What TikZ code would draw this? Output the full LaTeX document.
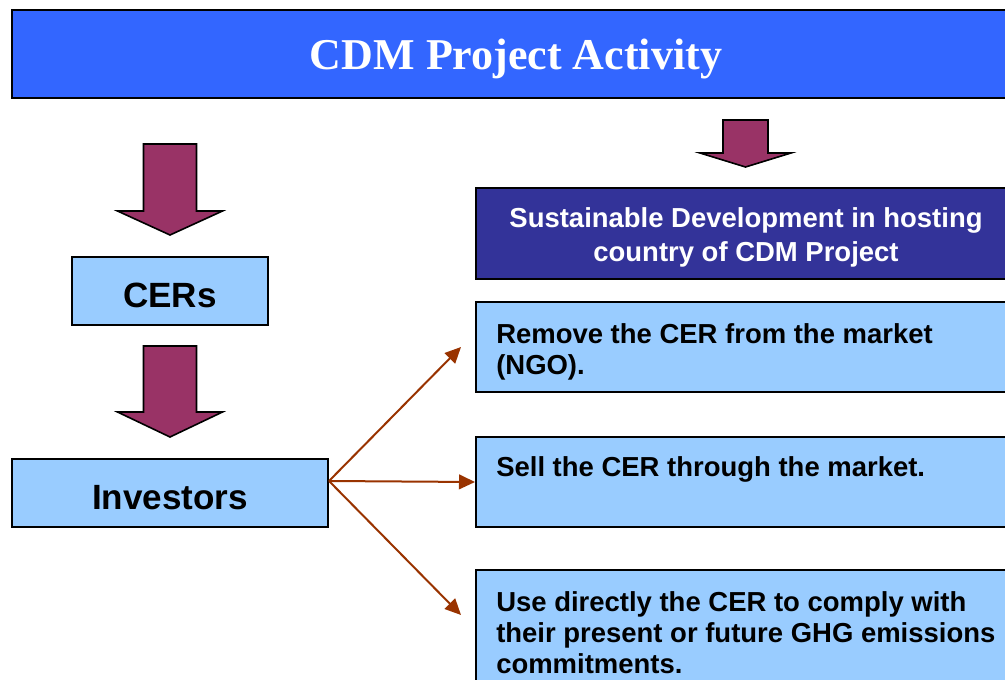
\documentclass[tikz,border=0pt]{standalone}
\usepackage{fontspec}
\setmainfont{Liberation Serif}
\newfontfamily\sansf{Liberation Sans}
\usetikzlibrary{calc,positioning,arrows.meta}
\definecolor{titleblue}{HTML}{3366FF}
\definecolor{boxblue}{HTML}{99CCFF}
\definecolor{darkblue}{HTML}{333399}
\definecolor{arrowred}{HTML}{993366}
\definecolor{linered}{HTML}{993300}
% block arrow pointing down: x, shaft half width, top, head base, head half width, tip
\newcommand{\downblk}[6]{%
  \draw[barr] (#1-#2,#3) -- (#1+#2,#3) -- (#1+#2,#4) -- (#1+#5,#4) -- (#1,#6)
    -- (#1-#5,#4) -- (#1-#2,#4) -- cycle;}

\begin{document}
\begin{tikzpicture}[x=0.75pt, y=-0.75pt, line join=miter]
        \tikzset{
          box/.style ={draw, line width=1.5pt, inner sep=0pt},
          lbl/.style ={font=\sansf\bfseries\fontsize{20.6}{23.3}\selectfont, align=left, inner sep=0pt, anchor=north west},
          big/.style ={font=\sansf\bfseries\fontsize{26.3}{30}\selectfont, text height=24.8pt, text depth=0pt},
          barr/.style={draw, line width=1.2pt, fill=arrowred},
          ln/.style  ={draw=linered, line width=1.5pt, -{Triangle[length=12pt,width=11pt]}}
        }
        \useasboundingbox (0,0) rectangle (1005,680);
        \clip (0,0) rectangle (1005,680);
        %% --- Title ---
        \node[box, fill=titleblue, minimum width=756pt, minimum height=66pt, text=white,
              font=\bfseries\fontsize{33}{36}\selectfont, text depth=0pt] (title) at (516,54) {CDM Project Activity};
        %% --- Left column ---
        \downblk{170}{26.5}{144}{211}{52.5}{235}
        \node[box, fill=boxblue, minimum width=147pt, minimum height=51pt, big] (cer) at (170,291) {CERs};
        \downblk{170}{26.5}{346}{412}{52.5}{437}
        \node[box, fill=boxblue, minimum width=237pt, minimum height=51pt, big] (inv) at (170,493) {Investors};
        %% --- Right column ---
        \downblk{745.5}{22.5}{120}{153}{45.5}{167}
        \node[box, fill=darkblue, minimum width=405pt, minimum height=68.25pt] (sd) at (746,233.5) {};
        \node[text=white, align=center, inner sep=0pt, font=\sansf\bfseries\fontsize{20.6}{25}\selectfont]
              (sdt) at ($(sd.center)+(0,4)$) {Sustainable Development in hosting\\country of CDM Project};
        \node[box, fill=boxblue, minimum width=405pt, minimum height=67.5pt] (rm)   at (746,347) {};
        \node[box, fill=boxblue, minimum width=405pt, minimum height=67.5pt] (sell) at (746,482) {};
        \node[box, fill=boxblue, minimum width=405pt, minimum height=90pt]   (use)  at (746,630) {};
        \node[lbl] (rmt)   at ($(rm.north west)+(21,22)$)   {Remove the CER from the market\\(NGO).};
        \node[lbl] (sellt) at ($(sell.north west)+(21,20)$) {Sell the CER through the market.};
        \node[lbl] (uset)  at ($(use.north west)+(21,22)$)  {Use directly the CER to comply with\\their present or future GHG emissions\\commitments.};
        %% --- Investor choices ---
        \coordinate (fork) at ($(inv.east)+(0,-12)$);
        \draw[ln] (fork) -- ($(rm.west)+(-14,0)$);
        \draw[ln] (fork) -- (sell.west);
        \draw[ln] (fork) -- ($(use.north west)+(-14,46)$);
    \end{tikzpicture}
\end{document}
